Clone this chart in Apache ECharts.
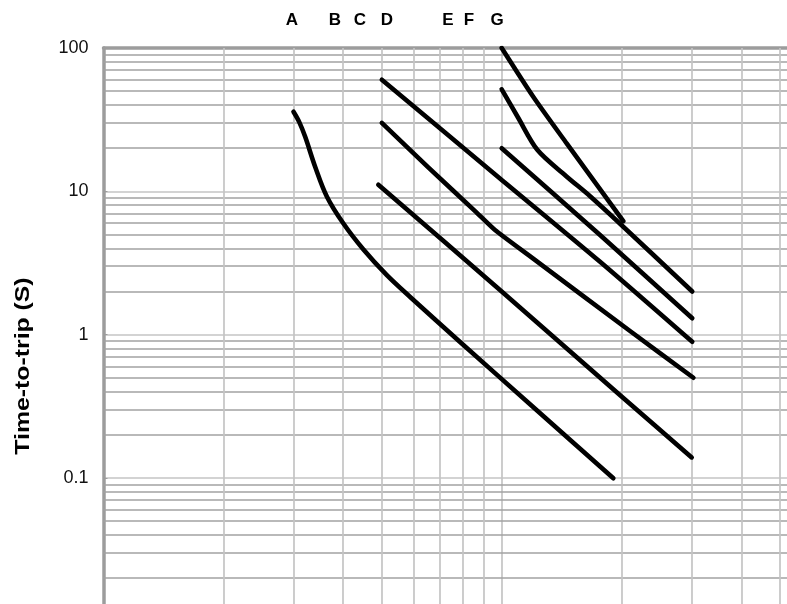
<!DOCTYPE html>
<html>
<head>
<meta charset="utf-8">
<script src="https://cdn.jsdelivr.net/npm/echarts@6/dist/echarts.min.js"></script>
<style>
html,body{margin:0;padding:0;background:#fff;}
#chart{width:787px;height:604px;}
</style>
</head>
<body>
<div id="chart"></div>
<script>
// ---- data (x = multiple of rating, y = time-to-trip in seconds) ----
var curveA = [[3.0,35.9],[3.1,30.5],[3.21,24.0],[3.4,14.85],[3.64,9.17],[4.0,5.98],[4.49,3.94],[5.14,2.61],[5.89,1.83],[7.86,0.888],[11.78,0.327],[19.07,0.0994]];
var curveB = [[4.9,11.1],[10,2.0],[20,0.37],[30,0.139]];
var curveC = [[5.0,30],[6.54,14.7],[8.6,7.22],[9.62,5.37],[12,3.39],[21,1.06],[30.3,0.5]];
var curveD = [[5.0,60],[9.9,12.3],[17.6,3.25],[30.1,0.89]];
var curveE = [[10,20],[17.6,5.0],[30.1,1.3]];
var curveF = [[10.0,51.5],[11.0,32.6],[12.3,19.4],[14.5,12.8],[16.7,9.2],[20.2,5.66],[30.1,2.0]];
var curveG = [[10.0,100],[12.0,45.7],[14.56,21.6],[20.2,6.2]];
var topLabels = ['A','B','C','D','E','F','G'];
var yTickLabels = {0.01:'0.01',0.1:'0.1',1:'1',10:'10',100:'100'};
var yMinorValues = [];
var xMinorValues = [];
[0.01,0.1,1,10].forEach(function(d){ for(var k=2;k<=9;k++){ yMinorValues.push(+(d*k).toPrecision(3)); } });
[1,10].forEach(function(d){ for(var k=2;k<=9;k++){ xMinorValues.push(d*k); } });

var chart = echarts.init(document.getElementById('chart'), null, {renderer:'canvas'});
var gridLeft = 103.5, gridTop = 48, gridW = 796.4, gridH = 573.2;

function curve(name, data, sm){
  return {
    name: name, type:'line', data: data, smooth: sm, symbol:'none', z: 5,
    lineStyle:{color:'#000', width:4.6, cap:'round', join:'round'}
  };
}

var markData = [];
yMinorValues.forEach(function(v){ markData.push({yAxis:v, lineStyle:{color:'#a2a2a2', width:1.7, type:'solid'}}); });
xMinorValues.forEach(function(v){ markData.push({xAxis:v, lineStyle:{color:'#c4c4c4', width:1.7, type:'solid'}}); });

var labelX = [292, 335, 360, 387, 448, 469, 497];
var graphics = topLabels.map(function(t, i){
  return {type:'text', x: labelX[i], y: 20, z: 10,
    style:{text:t, font:'bold 17px "Liberation Sans", Arial, sans-serif', fill:'#000', align:'center', verticalAlign:'middle'}};
});
graphics.push({type:'text', x: 23, y: 366, rotation: Math.PI/2, scaleX: 1.24, z: 10,
  style:{text:'Time-to-trip (S)', font:'bold 20px "Liberation Sans", Arial, sans-serif', fill:'#000', align:'center', verticalAlign:'middle'}});

chart.setOption({
  animation:false,
  backgroundColor:'#fff',
  grid:{left:gridLeft, top:gridTop, width:gridW, height:gridH, containLabel:false, outerBoundsMode:'none'},
  xAxis:{type:'log', logBase:10, min:1, max:100, position:'top',
    axisLine:{show:true, lineStyle:{color:'#9c9c9c', width:3.5}},
    axisTick:{show:false}, axisLabel:{show:false},
    splitLine:{show:true, lineStyle:{color:'#c4c4c4', width:1.7}}},
  yAxis:{type:'log', logBase:10, min:0.01, max:100,
    axisLine:{show:true, lineStyle:{color:'#9c9c9c', width:3.5}},
    axisTick:{show:true, inside:true, length:4, lineStyle:{color:'#9c9c9c', width:1}},
    axisLabel:{show:true, margin:15, color:'#111', fontSize:18, fontFamily:'"Liberation Sans", Arial, sans-serif',
      formatter:function(v){ var k = +(+v).toPrecision(3); return yTickLabels[k] !== undefined ? yTickLabels[k] : ''; }},
    splitLine:{show:true, lineStyle:{color:'#c4c4c4', width:1.7}}},
  graphic: graphics,
  series:[
    {type:'line', data:[], z:1, silent:true,
      markLine:{silent:true, symbol:['none','none'], label:{show:false}, animation:false, data: markData}},
    curve('A', curveA, 0.35), curve('B', curveB, 0.25), curve('C', curveC, 0.2), curve('D', curveD, 0.25),
    curve('E', curveE, 0.25), curve('F', curveF, 0.3), curve('G', curveG, 0.25)
  ]
});
</script>
</body>
</html>
